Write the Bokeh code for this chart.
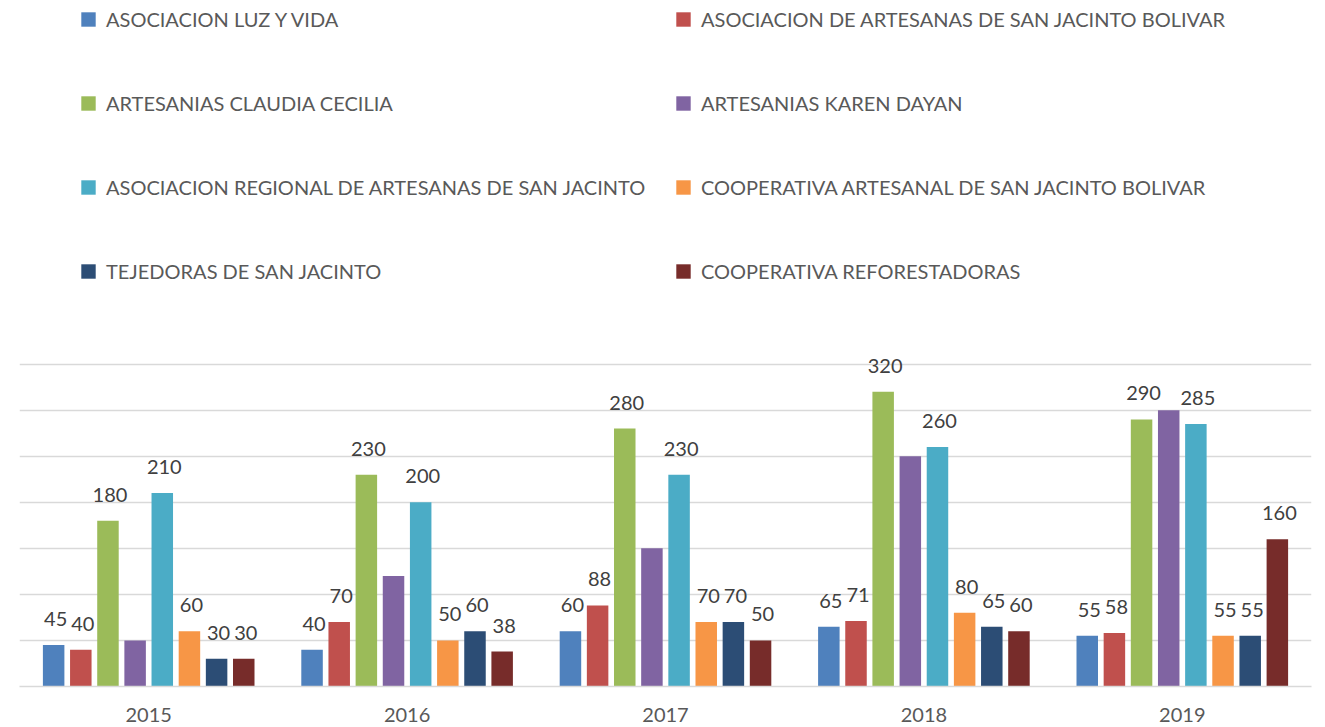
from bokeh.plotting import figure
from bokeh.models import ColumnDataSource, FactorRange, Range1d, Legend, LegendItem, FixedTicker
from bokeh.transform import dodge
from bokeh.core.properties import value
from bokeh.embed import file_html
from bokeh.resources import INLINE

years = ["2015", "2016", "2017", "2018", "2019"]

series_names = [
    "ASOCIACION LUZ Y VIDA",
    "ASOCIACION DE ARTESANAS DE SAN JACINTO BOLIVAR",
    "ARTESANIAS CLAUDIA CECILIA",
    "ARTESANIAS KAREN DAYAN",
    "ASOCIACION REGIONAL DE ARTESANAS DE SAN JACINTO",
    "COOPERATIVA ARTESANAL DE SAN JACINTO BOLIVAR",
    "TEJEDORAS DE SAN JACINTO",
    "COOPERATIVA REFORESTADORAS",
]

luz_y_vida = [45, 40, 60, 65, 55]
artesanas_bolivar = [40, 70, 88, 71, 58]
claudia_cecilia = [180, 230, 280, 320, 290]
karen_dayan = [50, 120, 150, 250, 300]
regional_artesanas = [210, 200, 230, 260, 285]
coop_artesanal = [60, 50, 70, 80, 55]
tejedoras = [30, 60, 70, 65, 55]
reforestadoras = [30, 38, 50, 60, 160]

series_values = [luz_y_vida, artesanas_bolivar, claudia_cecilia, karen_dayan,
                 regional_artesanas, coop_artesanal, tejedoras, reforestadoras]
show_labels = [True, True, True, False, True, True, True, True]

colors = ["#4F81BD", "#C0504D", "#9BBB59", "#8064A2",
          "#4BACC6", "#F79646", "#2C4D75", "#772C2A"]

grid_ticks = [0, 50, 100, 150, 200, 250, 300, 350]

FONT = "Lato"

p = figure(width=1325, height=727,
           x_range=FactorRange(factors=years, range_padding=0),
           y_range=Range1d(0, 744.8),
           y_axis_location=None,
           min_border_left=19, min_border_right=14, min_border_top=0, min_border_bottom=41,
           output_backend="svg", toolbar_location=None)
p.outline_line_color = None
p.background_fill_color = "white"
p.border_fill_color = "white"

p.xgrid.grid_line_color = None
p.ygrid.ticker = FixedTicker(ticks=grid_ticks)
p.ygrid.grid_line_color = "#d9d9d9"
p.ygrid.grid_line_width = 1.5

p.xaxis.axis_line_color = "#d9d9d9"
p.xaxis.axis_line_width = 1.5
p.xaxis.major_tick_line_color = None
p.xaxis.minor_tick_line_color = None
p.xaxis.major_tick_out = 0
p.xaxis.major_tick_in = 0
p.xaxis.major_label_standoff = 21
p.xaxis.major_label_text_font = FONT
p.xaxis.major_label_text_font_size = "20px"
p.xaxis.major_label_text_color = "#595959"

n = len(series_names)
slot = 0.1051
bar_w = 0.0832

data = {"year": years}
for i, vals in enumerate(series_values):
    data[f"s{i}"] = vals
    data[f"t{i}"] = [str(v) for v in vals]
source = ColumnDataSource(data)

renderers = []
for i in range(n):
    off = (i - (n - 1) / 2) * slot
    r = p.vbar(x=dodge("year", off, range=p.x_range), top=f"s{i}", width=bar_w,
               source=source, fill_color=colors[i], line_color=None)
    renderers.append(r)
    if show_labels[i]:
        p.text(x=dodge("year", off, range=p.x_range), y=f"s{i}", text=f"t{i}",
               source=source, text_align="center", text_baseline="alphabetic",
               x_offset=2, y_offset=-26,
               text_font=value(FONT), text_font_size="20px", text_color="#404040")

def make_legend(idx, loc):
    items = [LegendItem(label=series_names[k], renderers=[renderers[k]]) for k in idx]
    leg = Legend(items=items, location=loc, orientation="vertical")
    leg.border_line_color = None
    leg.background_fill_alpha = 0
    leg.padding = 0
    leg.margin = 0
    leg.spacing = 60
    leg.glyph_width = 18
    leg.glyph_height = 18
    leg.label_standoff = 9
    leg.label_text_font = FONT
    leg.label_text_font_size = "20px"
    leg.label_text_color = "#595959"
    return leg

p.add_layout(make_legend([0, 2, 4, 6], (60, 403)))
p.add_layout(make_legend([1, 3, 5, 7], (655, 403)))

open("out.html", "w").write(file_html(p, INLINE))
